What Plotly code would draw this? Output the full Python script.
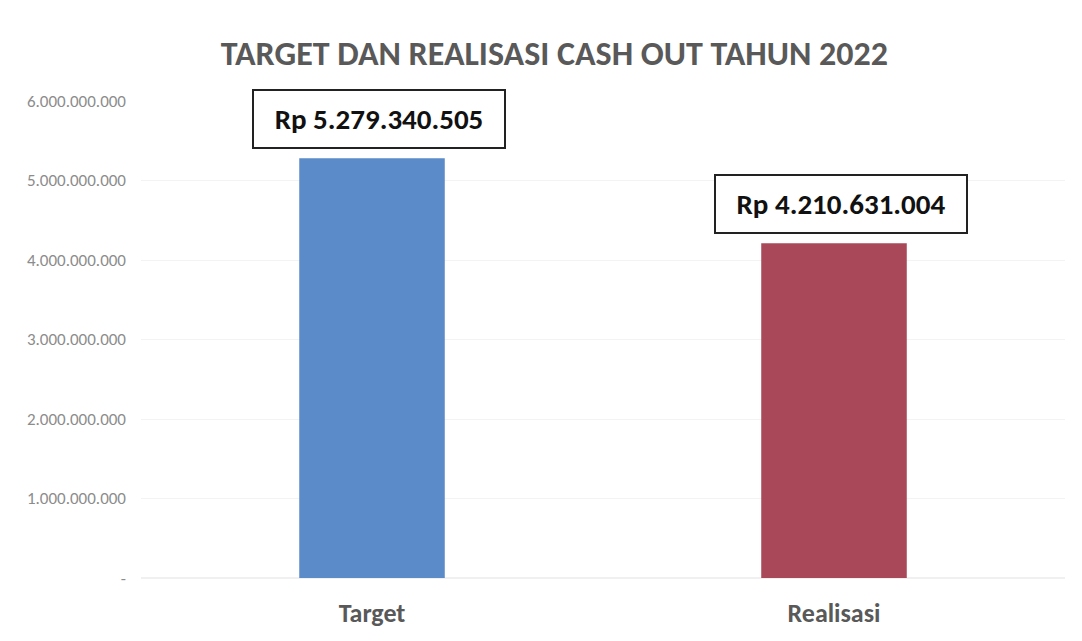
import plotly.graph_objects as go

categories = ["Target", "Realisasi"]
values = [5279340505, 4210631004]
value_labels = ["Rp 5.279.340.505", "Rp 4.210.631.004"]
bar_colors = ["#5B8BC9", "#A84858"]
y_tickvals = [0, 1e9, 2e9, 3e9, 4e9, 5e9, 6e9]
y_ticktext = ["-", "1.000.000.000", "2.000.000.000", "3.000.000.000",
              "4.000.000.000", "5.000.000.000", "6.000.000.000"]
title_text = "TARGET DAN REALISASI CASH OUT TAHUN 2022"

fig = go.Figure()
fig.add_trace(go.Bar(x=categories, y=values, marker_color=bar_colors,
                     marker_line_width=0, width=0.315, showlegend=False))

for c, v, t in zip(categories, values, value_labels):
    fig.add_annotation(x=c, y=v, text="<b>" + t + "</b>", showarrow=False,
                       yanchor="bottom", yshift=9, xshift=7,
                       font=dict(family="Carlito, sans-serif", size=29, color="#111111"),
                       bordercolor="#222222", borderwidth=2, borderpad=5,
                       width=240, height=46, bgcolor="white")

fig.update_layout(
    width=1082, height=641,
    margin=dict(l=133, r=25, t=93, b=71),
    paper_bgcolor="white", plot_bgcolor="white",
    title=dict(text="<b>" + title_text + "</b>", x=0.505, xanchor="center", y=0.93, yanchor="middle",
               font=dict(family="Carlito, sans-serif", size=34, color="#595959")),
    xaxis=dict(tickfont=dict(family="Carlito, sans-serif", size=26, color="#595959", weight=600),
               showgrid=False, showline=False, ticks="", ticklabelstandoff=17),
    yaxis=dict(range=[0, 6e9], tickvals=y_tickvals, ticktext=y_ticktext,
               tickfont=dict(family="Carlito, sans-serif", size=17, color="#8C8C8C"),
               showgrid=True, gridcolor="#F3F3F3", gridwidth=1, zeroline=True,
               zerolinecolor="#F0F0F0", showline=False, ticks="", ticklabelstandoff=14),
    bargap=0.69,
)

fig.write_html("out.html")
